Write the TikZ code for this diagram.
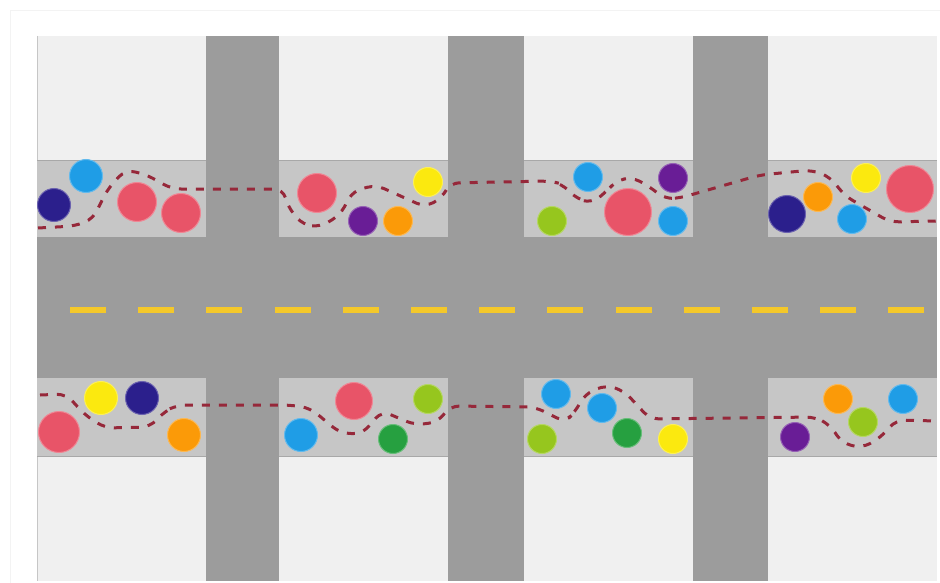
\documentclass[tikz,border=0pt]{standalone}
\usepackage{tikz}
\definecolor{Block}{HTML}{F0F0F0}
\definecolor{Walk}{HTML}{C6C6C6}
\definecolor{WalkEdge}{HTML}{A8A8A8}
\definecolor{Road}{HTML}{9C9C9C}
\definecolor{Frame}{HTML}{F3F3F3}
\definecolor{Lane}{HTML}{F4C82A}
\definecolor{Trace}{HTML}{96283A}
\definecolor{Sky}{HTML}{1F9DE6}
\definecolor{Navy}{HTML}{2B1F8C}
\definecolor{Rose}{HTML}{E85468}
\definecolor{Grape}{HTML}{691D96}
\definecolor{Amber}{HTML}{FB9A08}
\definecolor{Lemon}{HTML}{FBE90F}
\definecolor{Lime}{HTML}{96C61E}
\definecolor{Leaf}{HTML}{26A040}

\begin{document}
\begin{tikzpicture}[x=1pt,y=-1pt,
      spot/.style={draw=#1!70!white,fill=#1,line width=1pt},
      lane/.style={Lane,line width=6pt,dash pattern=on 36pt off 32.2pt},
      trace/.style={Trace,line width=3pt,dash pattern=on 8pt off 9pt}]
    \useasboundingbox (0,0) rectangle (940,583);
    \fill[white] (0,0) rectangle (940,583);
    \draw[Frame,line width=1pt] (940,10.5) -- (10.5,10.5) -- (10.5,583);

    \fill[Block] (37,36) rectangle (937,581);
    \draw[Walk,line width=0.7pt] (37,36) -- (37,581);
    \fill[Walk] (37,160) rectangle (937,237);
    \fill[Walk] (37,378) rectangle (937,456);
    \draw[WalkEdge,line width=0.8pt] (37,160) -- (937,160);
    \draw[WalkEdge,line width=0.8pt] (37,456) -- (937,456);
    \fill[Road] (37,237) rectangle (937,378);
    \foreach \xa/\xb in {206/279,448/524,693/768}{%
      \fill[Road] (\xa,36) rectangle (\xb,581);
    }
    \draw[lane] (70,310) -- (925,310);

    \foreach \c/\x/\y/\r in {
        Navy/54/205/16.5,Sky/86/176/16.5,Rose/137/202/19.5,Rose/181/213/19.5,
        Rose/317/193/19.5,Grape/363/221/14.5,Amber/398/221/14.5,Lemon/428/182/14.5,
        Sky/588/177/14.5,Grape/673/178/14.5,Lime/552/221/14.5,Rose/628/212/23.5,
        Sky/673/221/14.5,Navy/787/214/18.5,Amber/818/197/14.5,Lemon/866/178/14.5,
        Sky/852/219/14.5,Rose/910/189/23.5,
        Rose/59/432/20.5,Lemon/101/398/16.5,Navy/142/398/16.5,Amber/184/435/16.5,
        Sky/301/435/16.5,Rose/354/401/18.5,Leaf/393/439/14.5,Lime/428/399/14.5,
        Sky/556/394/14.5,Sky/602/408/14.5,Lime/542/439/14.5,Leaf/627/433/14.5,
        Lemon/673/439/14.5,Grape/795/437/14.5,Amber/838/399/14.5,Lime/863/422/14.5,
        Sky/903/399/14.5}{%
      \draw[spot=\c] (\x,\y) circle[radius=\r];
    }

    \draw[trace,rounded corners=9pt] (38,228) -- (75,226) -- (93,219)
      -- (107,190) -- (125,170) -- (145,174) -- (172,189) -- (283,189)
      -- (288,207) -- (303,225) -- (320,227) -- (340,215) -- (353,191)
      -- (376,185) -- (425,207) -- (442,198) -- (450,183) -- (550,181)
      -- (562,184) -- (577,199) -- (592,203) -- (606,192) -- (616,181)
      -- (632,177) -- (650,187) -- (665,199) -- (680,198) -- (760,175)
      -- (812,170) -- (830,177) -- (845,196) -- (890,222) -- (937,221);
    \draw[trace,rounded corners=9pt] (40,395) -- (66,394) -- (85,415)
      -- (105,428) -- (150,427) -- (165,411) -- (178,405) -- (290,405)
      -- (310,408) -- (340,433) -- (362,434) -- (382,411) -- (415,425)
      -- (438,422) -- (450,406) -- (535,407) -- (565,422) -- (575,412)
      -- (585,394) -- (606,385) -- (624,391) -- (637,405) -- (650,419)
      -- (815,417) -- (830,425) -- (842,443) -- (862,448) -- (880,438)
      -- (896,420) -- (937,421);
  \end{tikzpicture}
\end{document}
